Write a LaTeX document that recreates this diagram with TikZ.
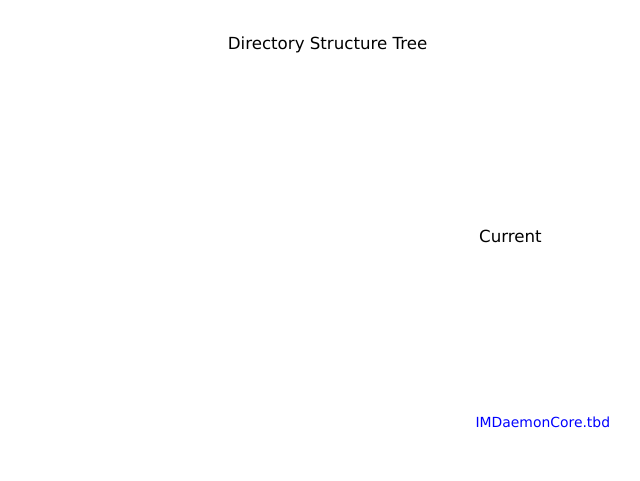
\documentclass[tikz,border=0pt]{standalone}
\usepackage{fontspec}
\setmainfont{DejaVu Sans}
\tikzset{
    dt title/.style={font=\fontsize{11.85}{14}\selectfont, inner sep=0pt},
    dt dir/.style={font=\fontsize{11.85}{14}\selectfont, inner sep=0pt},
    dt file/.style={font=\fontsize{9.9}{12}\selectfont, text=blue, inner sep=0pt},
}
\begin{document}
\begin{tikzpicture}
    % canvas 640x480 px, 1px = 0.025cm
    \useasboundingbox (0,0) rectangle (16,12);
    \node[dt title] (title) at (8.19, 10.87) {Directory Structure Tree};
    % tree entries
    \node[dt dir]  (current) at (12.76, 6.09) {Current};
    \node[dt file] (core)    at (13.57, 1.45) {IMDaemonCore.tbd};
\end{tikzpicture}
\end{document}
